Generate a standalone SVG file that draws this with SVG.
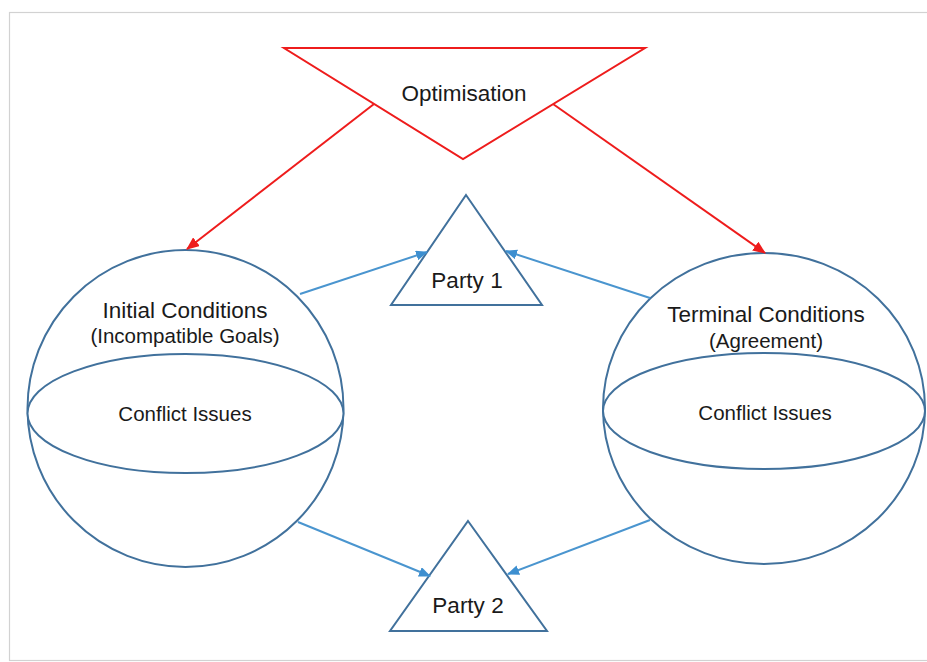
<svg xmlns="http://www.w3.org/2000/svg" width="927" height="662" viewBox="0 0 927 662">
  <defs>
    <style>
      .frame { fill: #ffffff; stroke: #d2d2d2; stroke-width: 1.2; }
      .sphere { fill: #ffffff; stroke: #41719c; stroke-width: 2; }
      .party { fill: #ffffff; stroke: #41719c; stroke-width: 2; }
      .goal { fill: #ffffff; stroke: #ee1c1c; stroke-width: 2; }
      .red-link { fill: none; stroke: #ee1c1c; stroke-width: 2; marker-end: url(#arrow-red); }
      .blue-link { fill: none; stroke: #4a95cf; stroke-width: 2; marker-end: url(#arrow-blue); }
      text { font-family: "Liberation Sans", Arial, sans-serif; fill: #1a1a1a; text-anchor: middle; }
      .big { font-size: 22.5px; }
      .small { font-size: 20.5px; }
    </style>
    <marker id="arrow-red" viewBox="0 0 12 10" refX="11" refY="5" markerWidth="13" markerHeight="11" markerUnits="userSpaceOnUse" orient="auto">
      <path d="M0,0 L12,5 L0,10 z" fill="#ee1c1c"/>
    </marker>
    <marker id="arrow-blue" viewBox="0 0 12 10" refX="11" refY="5" markerWidth="12" markerHeight="10" markerUnits="userSpaceOnUse" orient="auto">
      <path d="M0,0 L12,5 L0,10 z" fill="#3d8fd0"/>
    </marker>
  </defs>

  <!-- page frame -->
  <rect class="frame" x="9.5" y="12.5" width="930" height="648"/>

  <!-- objective -->
  <g id="optimisation">
    <polygon class="goal" points="284,48 645,48 463,159"/>
    <text class="big" x="464" y="101">Optimisation</text>
  </g>

  <!-- starting state -->
  <g id="initial-conditions">
    <ellipse class="sphere" cx="185.5" cy="408.5" rx="158" ry="158.5"/>
    <ellipse class="sphere" cx="185.5" cy="413.5" rx="158" ry="59.5"/>
    <text class="big" x="185" y="318">Initial Conditions</text>
    <text class="small" x="185" y="343">(Incompatible Goals)</text>
    <text class="small" x="185" y="421">Conflict Issues</text>
  </g>

  <!-- end state -->
  <g id="terminal-conditions">
    <ellipse class="sphere" cx="764" cy="408.5" rx="161" ry="155.5"/>
    <ellipse class="sphere" cx="764" cy="411" rx="161" ry="58"/>
    <text class="big" x="766" y="322">Terminal Conditions</text>
    <text class="small" x="766" y="348">(Agreement)</text>
    <text class="small" x="765" y="420">Conflict Issues</text>
  </g>

  <g id="party-1">
    <polygon class="party" points="466,195 542,305 391,305"/>
    <text class="big" x="467" y="288">Party 1</text>
  </g>

  <g id="party-2">
    <polygon class="party" points="468,521 547,631 390,631"/>
    <text class="big" x="468" y="613">Party 2</text>
  </g>

  <!-- connectors -->
  <g id="connectors">
    <line class="red-link" x1="374" y1="104" x2="187" y2="249"/>
    <line class="red-link" x1="553" y1="104" x2="765" y2="253"/>
    <line class="blue-link" x1="300" y1="294" x2="427" y2="252"/>
    <line class="blue-link" x1="650" y1="298" x2="506" y2="251"/>
    <line class="blue-link" x1="298" y1="522" x2="430" y2="576"/>
    <line class="blue-link" x1="650" y1="520" x2="508" y2="574"/>
  </g>
</svg>
